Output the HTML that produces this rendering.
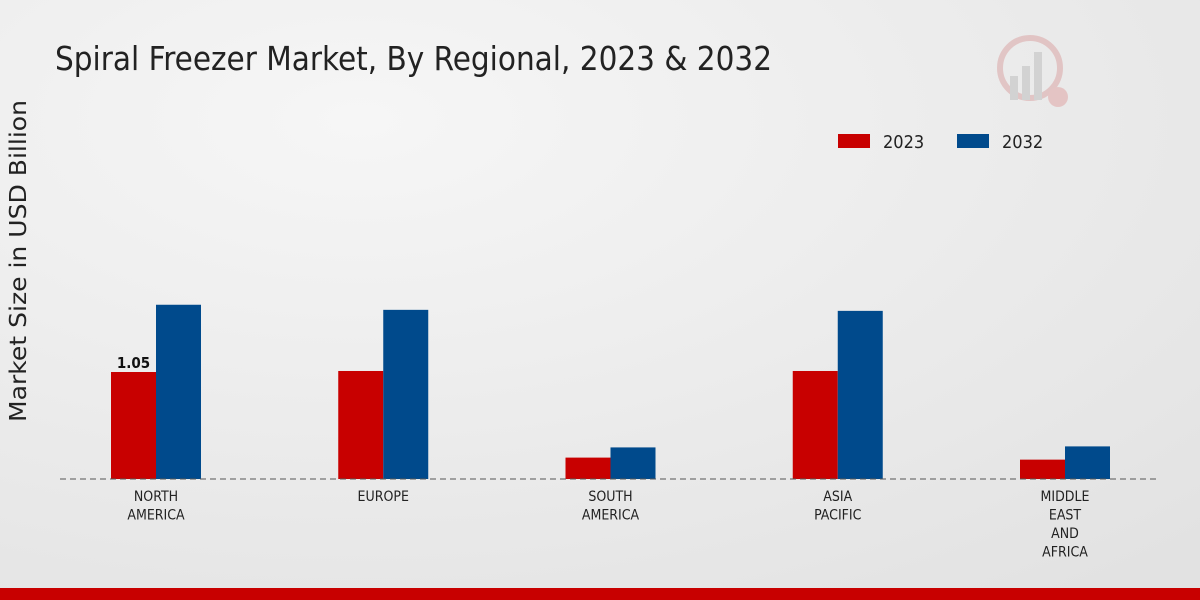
<!DOCTYPE html>
<html><head><meta charset="utf-8"><style>
body{margin:0;width:1200px;height:600px;overflow:hidden;font-family:"DejaVu Sans Condensed","Liberation Sans Narrow","Liberation Sans",sans-serif;}
svg{display:block}
</style></head><body>
<svg width="1200" height="600">
<defs><radialGradient id="bg" cx="0.3" cy="0.2" r="1"><stop offset="0" stop-color="#f6f6f6"/><stop offset="1" stop-color="#e2e2e2"/></radialGradient></defs>
<rect width="1200" height="600" fill="url(#bg)"/>
<text x="55" y="70" font-size="33" textLength="717" lengthAdjust="spacingAndGlyphs" fill="#222">Spiral Freezer Market, By Regional, 2023 &amp; 2032</text>
<text transform="translate(26,261) rotate(-90)" text-anchor="middle" font-size="23" textLength="322" lengthAdjust="spacingAndGlyphs" fill="#222" font-family="DejaVu Sans, sans-serif">Market Size in USD Billion</text>
<g>
<rect x="838" y="134" width="32" height="14" fill="#c80000"/>
<text x="883" y="148" font-size="18" fill="#222">2023</text>
<rect x="957" y="134" width="32" height="14" fill="#004a8c"/>
<text x="1002" y="148" font-size="18" fill="#222">2032</text>
</g>
<g id="marks"></g>
<line x1="60" y1="479" x2="1160" y2="479" stroke="#555" stroke-dasharray="6,4"/>
<g opacity="0.5">
<circle cx="1030" cy="68" r="30" fill="none" stroke="#d9a0a0" stroke-width="6"/>
<rect x="1010" y="76" width="8" height="24" fill="#bbb"/><rect x="1022" y="66" width="8" height="34" fill="#bbb"/><rect x="1034" y="52" width="8" height="48" fill="#bbb"/>
<circle cx="1058" cy="97" r="10" fill="#e0a0a0"/>
</g>
<rect x="0" y="588" width="1200" height="12" fill="#c80000"/>
</svg>
<script>
const categories=[["NORTH","AMERICA"],["EUROPE"],["SOUTH","AMERICA"],["ASIA","PACIFIC"],["MIDDLE","EAST","AND","AFRICA"]];
const values2023=[1.05,1.06,0.21,1.06,0.19];
const values2032=[1.71,1.66,0.31,1.65,0.32];
const valueLabels=["1.05","","","",""];
const ns="http://www.w3.org/2000/svg";
const g=document.getElementById('marks');
const base=479,scale=101.9,x0=156,step=227.25,bw=45;
const xs=i=>x0+i*step, ys=v=>base-v*scale;
function mk(t,a){const e=document.createElementNS(ns,t);for(const k in a)e.setAttribute(k,a[k]);g.appendChild(e);return e;}
categories.forEach((c,i)=>{
 const cx=xs(i);
 const r1=mk('rect',{x:cx-bw,y:ys(values2023[i]),width:bw,height:base-ys(values2023[i]),fill:'#c80000'});
 
 
 const r2=mk('rect',{x:cx,y:ys(values2032[i]),width:bw,height:base-ys(values2032[i]),fill:'#004a8c'});
 
 
 if(valueLabels[i]){const t=mk('text',{x:cx-bw/2,y:ys(values2023[i])-4,'text-anchor':'middle','font-size':15,'font-weight':'bold',fill:'#111'});t.textContent=valueLabels[i];
 
 }
 c.forEach((line,j)=>{const t=mk('text',{x:cx,y:501+j*18.5,'text-anchor':'middle','font-size':14,fill:'#222'});t.textContent=line;
 
 });
});
</script>
</body></html>
